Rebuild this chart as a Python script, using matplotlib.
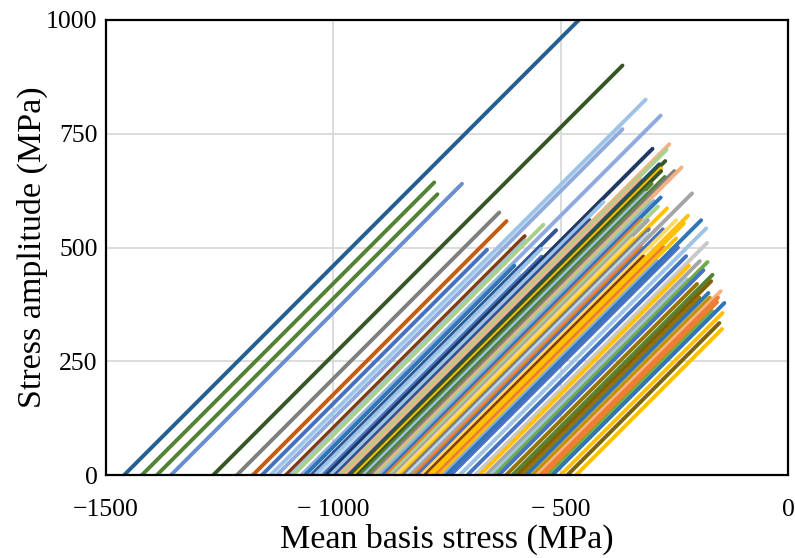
import matplotlib
matplotlib.use("Agg")
import matplotlib.pyplot as plt

# x-intercept (mean stress at zero amplitude, MPa), amplitude at line end (MPa), colour
sigma0 = [-1460, -1421, -1388, -1357, -1264,
          -1212, -1177, -1157, -1138, -1124, -1104, -1094, -1088, -1070, -1062,
          -1048, -1040, -1030, -1022, -1015, -1006, -996, -988, -982, -975,
          -966, -960, -953, -947, -940, -933, -926, -918, -910, -904,
          -897, -890, -883, -876, -868, -861, -852, -846, -838, -830,
          -822, -815, -806, -798, -790, -782, -774, -766, -758, -751,
          -742, -722, -705, -688, -678, -664, -652, -645, -636, -620,
          -606, -595, -585, -575, -562, -552, -544, -536, -526, -518,
          -500, -485, -466]
amp_end = [1030, 643, 617, 640, 900,
           577, 558, 495, 825, 760, 525, 515, 550, 790, 460,
           538, 497, 440, 480, 717, 600, 560, 727, 715, 650,
           683, 690, 674, 668, 640, 620, 655, 668, 676, 600,
           602, 610, 560, 590, 560, 520, 586, 540, 530, 619,
           500, 540, 560, 480, 570, 553, 500, 520, 470, 560,
           500, 542, 481, 510, 460, 470, 430, 468, 450, 420,
           440, 426, 390, 400, 390, 404, 390, 380, 360, 378,
           356, 334, 321]
colors = ["#255E91", "#548235", "#548235", "#698ED0", "#375623",
          "#7F7F7F", "#C55A11", "#4472C4", "#9DC3E6", "#8FAADC", "#843C0C", "#9DC3E6", "#A9D18E", "#8FAADC", "#2E75B6",
          "#2F5597", "#9DC3E6", "#BDD7EE", "#4472C4", "#203864", "#9DC3E6", "#2F5597", "#F4B183", "#A9D18E", "#F4B183",
          "#1F4E79", "#375623", "#FFC000", "#375623", "#548235", "#9DC3E6", "#548235", "#7F7F7F", "#F4B183", "#A9D18E",
          "#8FAADC", "#2E75B6", "#ED7D31", "#A9D18E", "#A5A5A5", "#FFD966", "#FFC000", "#7F7F7F", "#BDD7EE", "#A5A5A5",
          "#ED7D31", "#4472C4", "#FFD966", "#843C0C", "#FFC000", "#FFC000", "#ED7D31", "#FFC000", "#8FAADC", "#2E75B6",
          "#4472C4", "#9DC3E6", "#4472C4", "#C9C9C9", "#FFC000", "#A5A5A5", "#9DC3E6", "#70AD47", "#4472C4", "#997300",
          "#548235", "#7F6000", "#997300", "#2E75B6", "#BF9000", "#F4B183", "#ED7D31", "#ED7D31", "#70AD47", "#2E75B6",
          "#FFC000", "#7F6000", "#FFC000"]

xticks = [-1500, -1000, -500, 0]
xticklabels = ["\u22121500", "\u2212 1000", "\u2212 500", "0"]
yticks = [0, 250, 500, 750, 1000]
yticklabels = ["0", "250", "500", "750", "1000"]

plt.rcParams['font.family'] = ['Liberation Serif', 'DejaVu Serif']

fig = plt.figure(figsize=(7.95, 5.58), dpi=100)
ax = fig.add_axes([0.1333, 0.1487, 0.8579, 0.8155])

for s0, a, c in zip(sigma0, amp_end, colors):
    ax.plot([s0, s0 + a], [0, a], color=c, lw=2.8, solid_capstyle='round', zorder=3)

ax.set_xlim(-1500, 0)
ax.set_ylim(0, 1000)
ax.set_xticks(xticks)
ax.set_xticklabels(xticklabels)
ax.set_yticks(yticks)
ax.set_yticklabels(yticklabels)
ax.tick_params(axis='both', length=0, labelsize=18.5)
ax.tick_params(axis='x', pad=17)
ax.tick_params(axis='y', pad=6)
ax.grid(True, color="#D9D9D9", lw=1.3, zorder=0)
ax.set_axisbelow(True)
for sp in ax.spines.values():
    sp.set_color("black")
    sp.set_linewidth(1.6)
    sp.set_zorder(5)

ax.set_xlabel("Mean basis stress (MPa)", fontsize=24.5)
ax.set_ylabel("Stress amplitude (MPa)", fontsize=24.5)
ax.xaxis.set_label_coords(0.5, -0.108)
ax.yaxis.set_label_coords(-0.085, 0.5)

fig.savefig("out.png", dpi=100)
